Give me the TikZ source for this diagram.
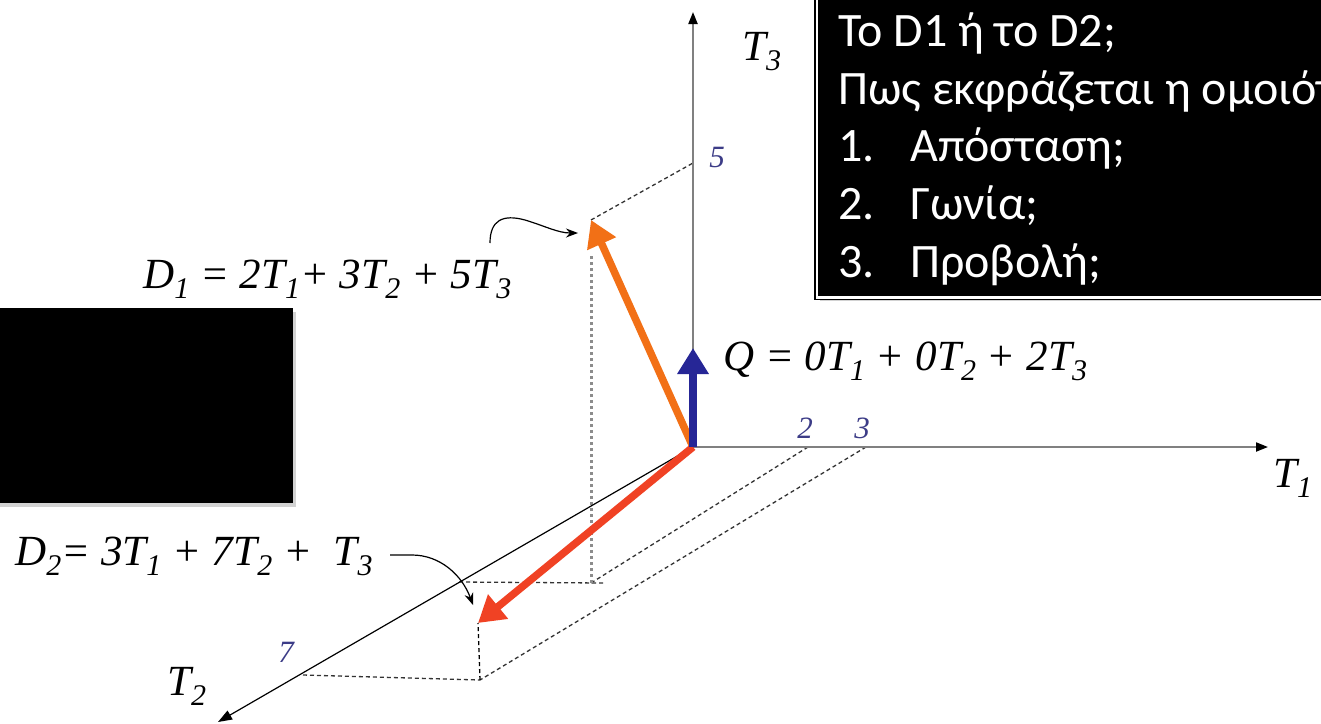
\documentclass[tikz,border=0pt]{standalone}
\usepackage{fontspec}
\setmainfont{Carlito}
\newfontfamily\timesfont{Liberation Serif}
\usepackage{tikz}
\usetikzlibrary{positioning, calc, arrows.meta, shadows}
\definecolor{axisgray}{RGB}{128,128,128}
\definecolor{vecblue}{RGB}{38,38,150}
\definecolor{vecorange}{RGB}{242,112,22}
\definecolor{vecred}{RGB}{240,66,36}
\definecolor{ticknum}{RGB}{60,60,135}
\newcommand{\sub}[1]{\raisebox{-10pt}{\fontsize{30}{30}\selectfont #1}}

\begin{document}
\begin{tikzpicture}[
        x=1pt, y=-1pt,
        axisline/.style={draw=axisgray, line width=2pt, -{Triangle[length=12pt, width=9pt, color=black]}},
        thinaxis/.style={draw=black, line width=1.2pt, -{Triangle[length=14pt, width=10pt]}},
        vec/.style={line width=7.5pt, -{Triangle[length=26pt, width=30pt]}},
        guide/.style={draw=black!80, line width=1.3pt, dash pattern=on 4pt off 3pt},
        plumb/.style={draw=black!45, line width=3pt, dash pattern=on 3pt off 3pt},
        pointer/.style={draw=black, line width=1.2pt, -{Stealth[length=12pt, width=9pt]}},
        lab/.style={font=\timesfont\itshape\fontsize{43}{50}\selectfont, inner sep=0pt, anchor=base west},
        ticknum/.style={font=\timesfont\itshape\fontsize{31}{36}\selectfont, text=ticknum, inner sep=0pt},
        boxtext/.style={font=\fontsize{48}{57}\selectfont, text=white, inner sep=0pt, anchor=base west},
        blackout/.style={fill=black, inner sep=0pt, drop shadow={shadow xshift=3pt, shadow yshift=-4pt, fill=black!35}}
    ]
        \useasboundingbox (0,0) rectangle (1321,723);
        \fill[white] (0,0) rectangle (1321,723);
        \clip (0,0) rectangle (1321,723);

        \coordinate (O) at (693,447);
        \coordinate (T1) at (1268,447);
        \coordinate (T2) at (218,722);
        \coordinate (T3) at (693,12);
        \coordinate (D1) at (591,220);
        \coordinate (D2) at (478,623);
        \coordinate (Q) at (693,348);
        \coordinate (A2) at (808,447);
        \coordinate (A3) at (866,447);
        \coordinate (C5) at (693,163);
        \coordinate (B3) at (459,582);
        \coordinate (B7) at (303,675);
        \coordinate (P1) at (591,583);
        \coordinate (P2) at (480,680);
        \coordinate (D1s) at (490,243);
        \coordinate (D2s) at (390,555);

        \draw[guide] (A2) -- (P1);
        \draw[guide] (A3) -- (P2);
        \draw[guide] (B3) -- ($(P1)+(12,0)$);
        \draw[guide] (B7) -- (P2);
        \draw[guide, draw=black] (P2) -- (D2);
        \draw[guide] (D1) -- (C5);
        \draw[plumb] (P1) -- ($(D1)+(0,36)$);

        \draw[axisline] (O) -- (T1);
        \draw[axisline] (O) -- (T3);
        \draw[thinaxis] (O) -- (T2);

        \draw[vec, vecorange] (O) -- (D1);
        \draw[vec, vecred] (O) -- (D2);
        \draw[vec, vecblue] (O) -- (Q);

        \node[ticknum] (N5) at (717,157) {5};
        \node[ticknum] (N2) at (805,428) {2};
        \node[ticknum] (N3) at (862,428) {3};
        \node[ticknum] (N7) at (286,652) {7};

        \node[lab] (T1L) at (1273,487) {T\sub{1}};
        \node[lab] (T2L) at (167,695) {T\sub{2}};
        \node[lab] (T3L) at (742,60) {T\sub{3}};
        \node[lab] (D1L) at (143,288) {D\sub{1} = 2T\sub{1}+ 3T\sub{2} + 5T\sub{3}};
        \node[lab] (QL) at (723,370) {Q = 0T\sub{1} + 0T\sub{2} + 2T\sub{3}};
        \node[lab] (D2L) at (15,565) {D\sub{2}= 3T\sub{1} + 7T\sub{2} +\ \ T\sub{3}};

        \draw[pointer] (D1s) .. controls (490,220) and (503,214) .. (525,220) .. controls (545,226) and (558,233) .. (578,233);
        \draw[pointer] (D2s) -- (412,555) .. controls (440,555) and (462,575) .. (473,605);

        \node[blackout, anchor=north east, minimum width=330pt, minimum height=195pt] (MASK) at (293,308) {};
        \node[blackout, draw=black, line width=1.5pt, double=white, double distance=2.5pt, anchor=south west, minimum width=620pt, minimum height=340pt] (BOX) at (816,298) {};

        \node[boxtext] (L1) at (838,46) {Το D1 ή το D2;};
        \node[boxtext] (L2) at (838,104) {Πως εκφράζεται η ομοιότητα;};
        \foreach \n/\word [count=\i] in {1/Απόσταση;, 2/Γωνία;, 3/Προβολή;} {
            \node[boxtext] (N\i) at (838,{104+57.7*\i}) {\n.};
            \node[boxtext] (W\i) at (910,{104+57.7*\i}) {\word};
        }
    \end{tikzpicture}
\end{document}
